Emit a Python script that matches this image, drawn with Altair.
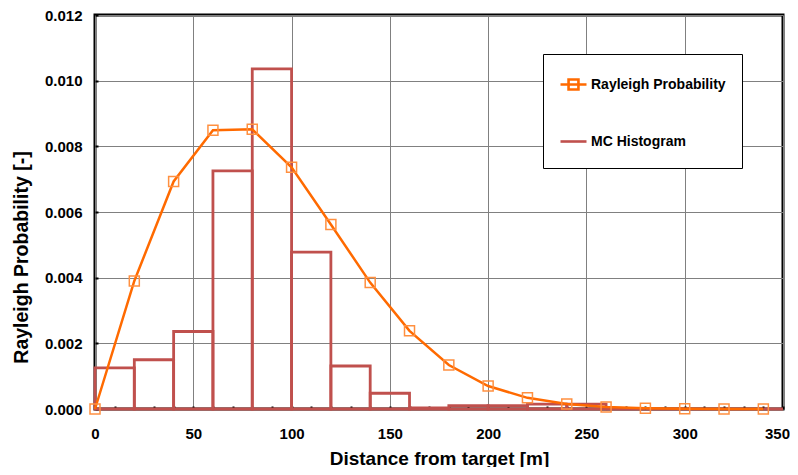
import altair as alt
import pandas as pd

# Rayleigh probability curve (value every 20 m)
dist = [0, 20, 40, 60, 80, 100, 120, 140, 160, 180, 200, 220, 240, 260, 280, 300, 320, 340]
rayleigh = [0.0, 0.0039, 0.00693, 0.00849, 0.00852, 0.00736, 0.00562, 0.00385, 0.00238,
            0.00134, 0.0007, 0.00034, 0.00015, 0.00006, 0.00002, 0.000005, 0.0, 0.0]

# Monte-Carlo histogram bins
hist_start = [0, 20, 40, 60, 80, 100, 120, 140, 160, 180, 200, 220, 240, 260, 280, 300, 320, 340]
hist_end = [20, 40, 60, 80, 100, 120, 140, 160, 180, 200, 220, 240, 260, 280, 300, 320, 340, 350]
hist_vals = [0.00125, 0.0015, 0.00236, 0.00725, 0.01036, 0.00478, 0.00131, 0.00048, 0.00003,
             0.0001, 0.0001, 0.00015, 0.00015, 0.0, 0.0, 0.0, 0.0, 0.0]

series_names = ["Rayleigh Probability", "MC Histogram"]
x_ticks = list(range(0, 351, 10))
y_ticks = [0.0, 0.002, 0.004, 0.006, 0.008, 0.010, 0.012]

ray_df = pd.DataFrame({"d": dist, "p": rayleigh, "series": series_names[0]})
hist_df = pd.DataFrame({"d": hist_start, "d2": hist_end, "p": hist_vals})

FONT = "Liberation Sans"
ORANGE_LINE = "#FF6A00"
ORANGE_MARK = "#FF9040"
RED = "#C0504D"

x_scale = alt.Scale(domain=[0, 350], nice=False, zero=False)
y_scale = alt.Scale(domain=[0, 0.012], nice=False)

x_axis = alt.Axis(
    title="Distance from target [m]",
    values=x_ticks,
    labelExpr="datum.value % 50 == 0 ? datum.label : ''",
    gridOpacity={"condition": {"test": "datum.value % 50 === 0", "value": 1}, "value": 0},
    labelOffset={"condition": {"test": "datum.value === 350", "value": -6}, "value": 0},
    labelFlush=False,
    domain=False,
    tickSize=3,
    tickWidth=2,
    tickColor="black",
    offset=-3,
    labelPadding=17,
    titlePadding=8,
)
y_axis = alt.Axis(
    title="Rayleigh Probability [-]",
    values=y_ticks,
    format=".3f",
    domain=False,
    tickSize=3,
    tickWidth=2,
    tickColor="black",
    offset=-3,
    labelPadding=13,
    titlePadding=13,
    titleY=242,
    titleFontSize=19.5,
)

X = alt.X("d:Q", scale=x_scale, axis=x_axis)
Y = alt.Y("p:Q", scale=y_scale, axis=y_axis)

hist = alt.Chart(hist_df).mark_bar(
    fillOpacity=0, stroke=RED, strokeWidth=2.8
).encode(x=X, x2="d2:Q", y=Y, y2=alt.datum(0))

line = alt.Chart(ray_df).mark_line(
    color=ORANGE_LINE, strokeWidth=2.5
).encode(x=X, y=Y)

points = alt.Chart(ray_df).mark_point(
    shape="square", filled=False, color=ORANGE_MARK, size=100, strokeWidth=1.5, opacity=1
).encode(x=X, y=Y)

legend = alt.Legend(
    orient="none",
    legendX=448,
    legendY=39,
    padding=16,
    rowPadding=32,
    strokeColor="black",
    fillColor="white",
    symbolSize=676,
    symbolStrokeWidth=2.6,
    labelOffset=3,
    labelFont=FONT,
    labelFontSize=14,
    labelFontWeight="bold",
    labelColor="black",
)

legend_layer = alt.Chart(ray_df).transform_filter("false").mark_point(
    filled=False, opacity=1, strokeWidth=2.6
).encode(
    x=X,
    y=Y,
    color=alt.Color("series:N", title=None,
                    scale=alt.Scale(domain=series_names, range=[ORANGE_LINE, RED]),
                    legend=legend),
    shape=alt.Shape("series:N", title=None,
                    scale=alt.Scale(domain=series_names,
                                    range=["M-1,0L1,0M-0.38,-0.38L0.38,-0.38L0.38,0.38L-0.38,0.38Z",
                                           "M-1,0L1,0M0,0.4"]),
                    legend=legend),
)

chart = alt.layer(hist, line, points, legend_layer).properties(
    width=688,
    height=394,
    autosize=alt.AutoSizeParams(type="none"),
    padding={"left": 87, "top": 7, "right": 7, "bottom": 58},
).configure_view(
    stroke="black", strokeWidth=3
).configure_axis(
    gridColor="#808080",
    gridWidth=1,
    labelFont=FONT,
    labelFontSize=15,
    labelFontWeight="bold",
    labelColor="black",
    titleFont=FONT,
    titleFontSize=19,
    titleFontWeight="bold",
    titleColor="black",
)

chart.save("out.html", embed_options={"renderer": "svg", "actions": False})
